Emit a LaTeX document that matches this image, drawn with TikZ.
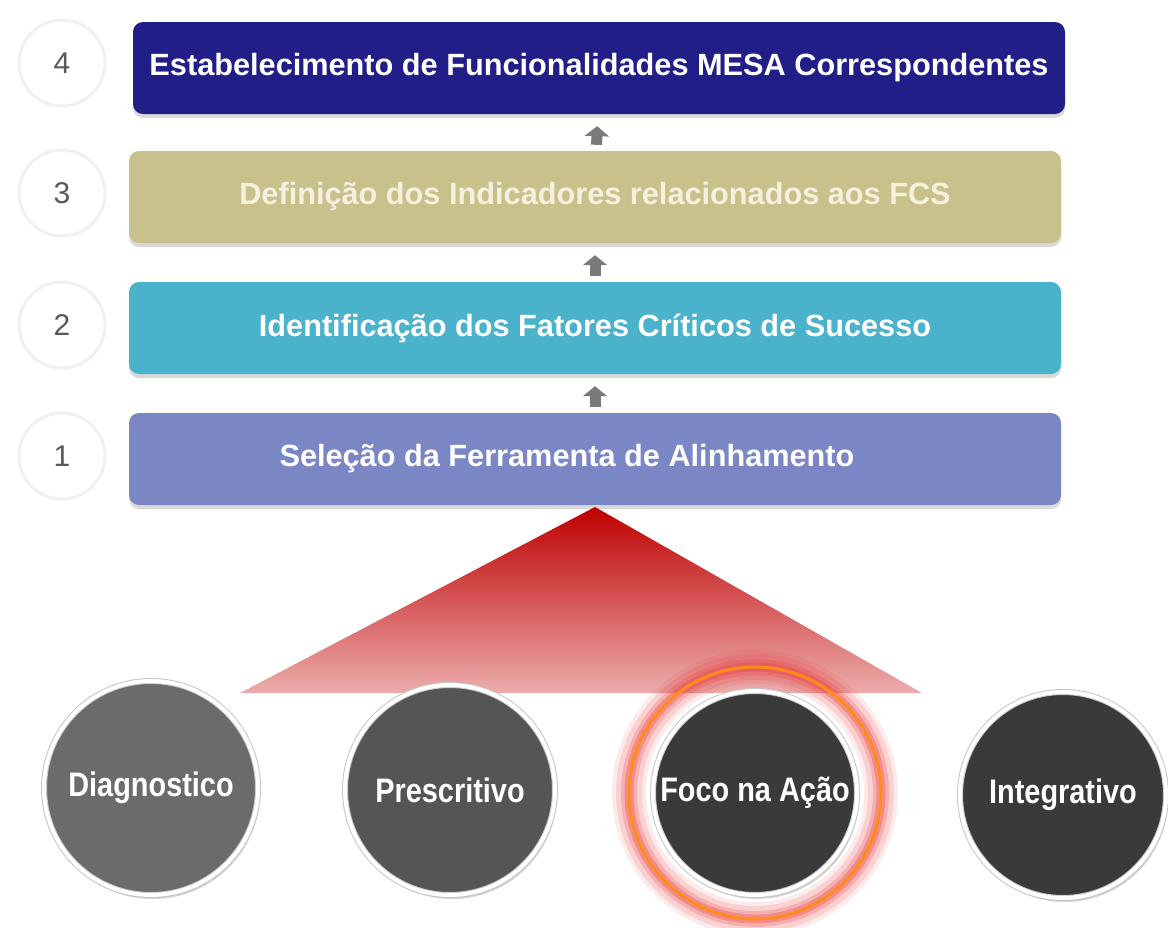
\documentclass[tikz,border=0pt]{standalone}
\usepackage{fontspec}
\setmainfont{Liberation Sans}
\newfontfamily\narrowsans[FakeStretch=0.85]{Liberation Sans}
\usetikzlibrary{positioning,shadows,arrows.meta}

\definecolor{navystep}{HTML}{211E87}
\definecolor{khakistep}{HTML}{C8C18C}
\definecolor{tealstep}{HTML}{4BB2CC}
\definecolor{lilacstep}{HTML}{7B86C4}
\definecolor{creamtext}{HTML}{F6F1DE}
\definecolor{arrowgray}{HTML}{7A7A7A}
\definecolor{glowred}{HTML}{E8393A}
\definecolor{ringorange}{HTML}{FF8C1A}

\tikzset{
  stepbox/.style={rectangle, rounded corners=10pt, minimum width=932pt, minimum height=92pt,
    text=white, font=\fontsize{30.7}{32}\selectfont\bfseries,
    drop shadow={opacity=0.3, shadow xshift=0pt, shadow yshift=-4pt}},
  stepnum/.style={circle, fill=white, draw=gray!12, line width=3pt, minimum size=86pt,
    font=\fontsize{30}{32}\selectfont, text=gray!70!black},
  stepup/.style={draw=arrowgray, line width=11pt, -{Triangle[width=24pt,length=10pt]},
    shorten <=6pt, shorten >=12pt},
  toolball/.style={circle, draw=gray!45, line width=1pt, double=white, double distance=4pt,
    text=white, font=\fontsize{34}{36}\narrowsans\bfseries,
    drop shadow={opacity=0.35, shadow xshift=2pt, shadow yshift=-4pt}}
}

\begin{document}
\begin{tikzpicture}[x=1pt, y=-1pt]
\useasboundingbox (0,0) rectangle (1168,927);

% steps
\node[stepbox, fill=navystep] (s4) at (599,68) {Estabelecimento de Funcionalidades MESA Correspondentes};
\node[stepbox, fill=khakistep, text=creamtext] (s3) at (595,197) {Definição dos Indicadores relacionados aos FCS};
\node[stepbox, fill=tealstep] (s2) at (595,328) {Identificação dos Fatores Críticos de Sucesso};
\node[stepbox, fill=lilacstep] (s1) at (595,459) {Seleção da Ferramenta de Alinhamento\hspace*{56pt}};

\node[stepnum] (n4) at (62,63) {4};
\node[stepnum] (n3) at (62,193) {3};
\node[stepnum] (n2) at (62,325) {2};
\node[stepnum] (n1) at (62,456) {1};

\draw[stepup] (s1) -- (s2);
\draw[stepup] (s2) -- (s3);
\draw[stepup] (s3) -- (s4);

% funnel
\shade[top color={rgb,255:red,190;green,0;blue,0}, middle color={rgb,255:red,205;green,55;blue,55},
  bottom color={rgb,255:red,236;green,172;blue,172}]
  (595,507) -- (922,693) -- (240,693) -- cycle;

% glow round the chosen tool
\foreach \w/\o in {34/0.10, 26/0.15, 16/0.22, 9/0.3}
  \draw[glowred, line width=\w pt, opacity=\o] (755,793) circle (126);
\draw[ringorange, line width=3pt] (755,793) circle (126);

% tools
\node[toolball, fill={rgb,255:red,107;green,107;blue,107}, minimum size=214pt] (diag) at (151,788) {Diagnostico};
\node[toolball, fill={rgb,255:red,85;green,85;blue,85}, minimum size=210pt] (presc) at (450,790) {Prescritivo};
\node[toolball, fill={rgb,255:red,58;green,58;blue,58}, minimum size=204pt] (foco) at (755,793) {Foco na Ação};
\node[toolball, fill={rgb,255:red,58;green,58;blue,58}, minimum size=206pt] (integ) at (1063,795) {Integrativo};

\end{tikzpicture}
\end{document}
